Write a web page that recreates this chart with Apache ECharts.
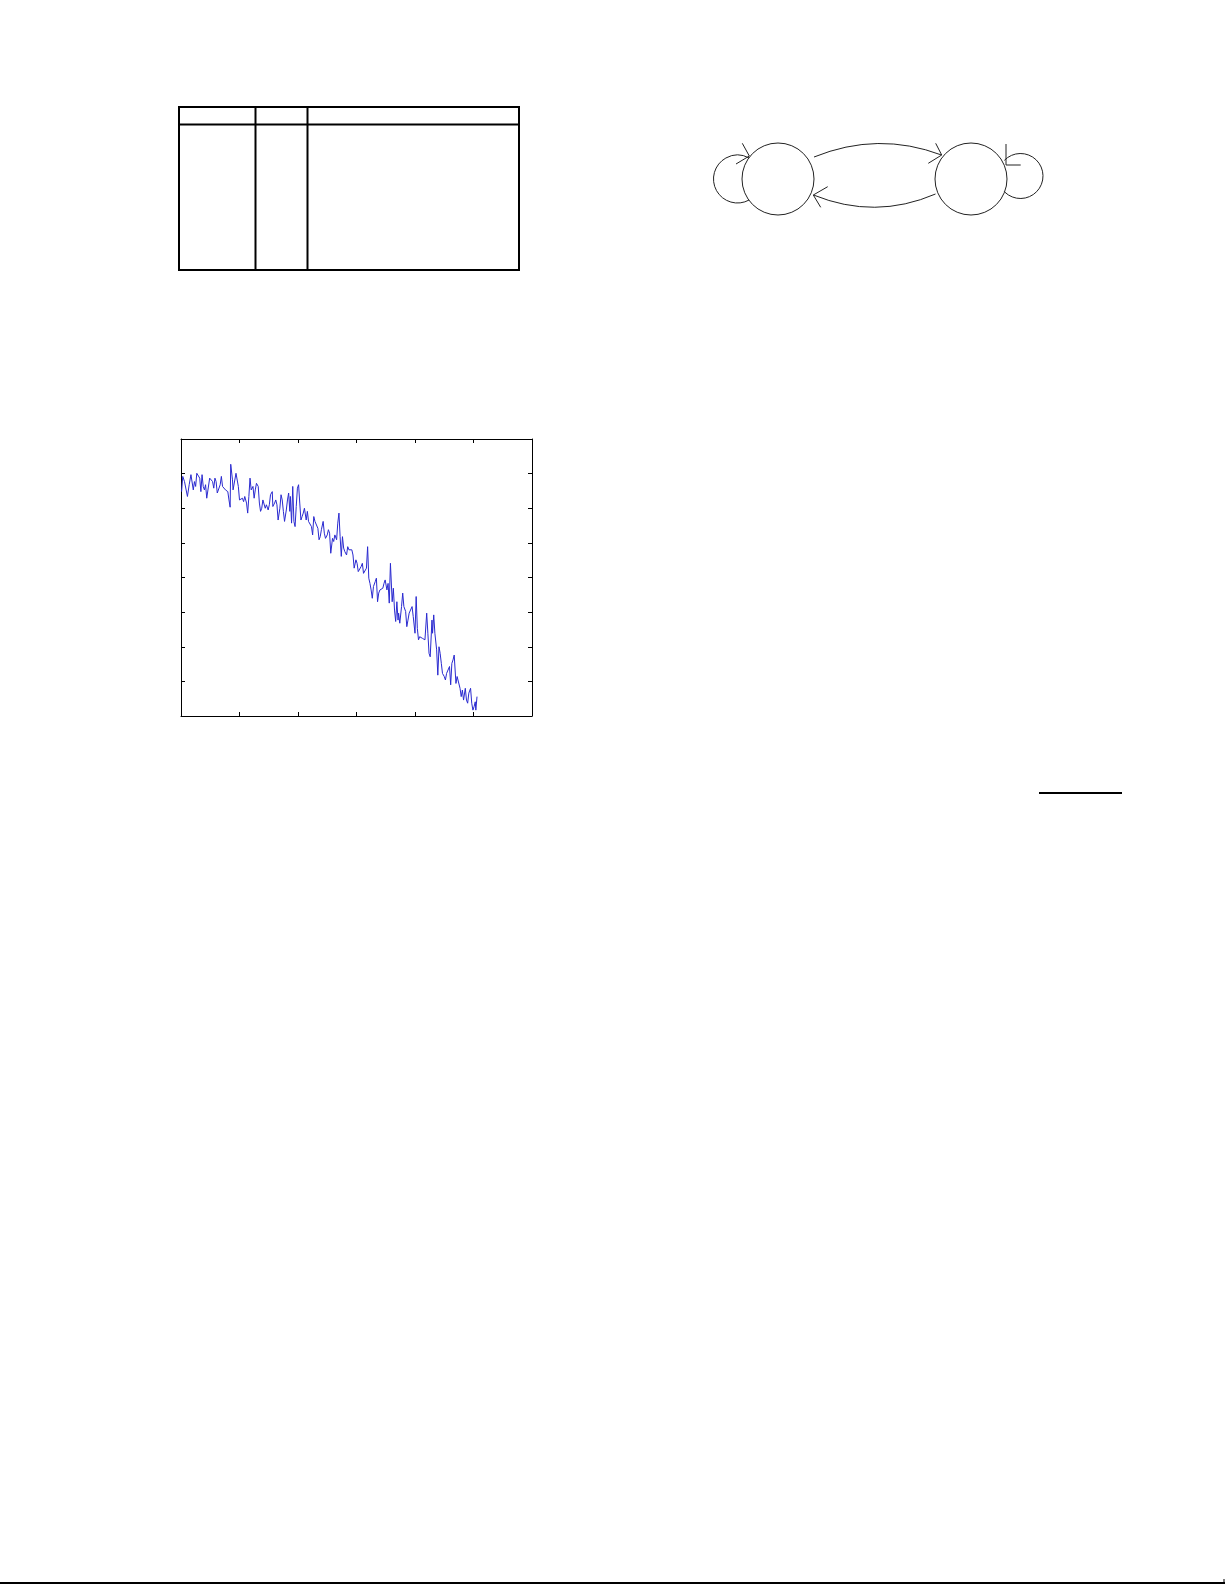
<!DOCTYPE html>
<html>
<head>
<meta charset="utf-8">
<script src="https://cdn.jsdelivr.net/npm/echarts@6/dist/echarts.min.js"></script>
<style>
html,body{margin:0;padding:0;background:#fff;}
#c{width:1225px;height:1585px;}
</style>
</head>
<body>
<div id="c"></div>
<script>
const xs = [
  1,3,6,11,14,17,19,21,23,25,
  27,30,32,34,36,38,40,42,44,47,
  49,52,54,56,58,60,62,64,67,69,
  71,74,76,78,80,82,84,85,88,89,
  92,94,96,98,100,103,105,107,109,112,
  114,116,118,120,123,125,127,129,132,134,
  136,138,140,142,144,146,149,151,153,156,
  157,160,162,164,166,169,171,173,175,177,
  180,182,184,186,187,189,191,193,195,197,
  199,201,203,205,207,209,211,214,216,218,
  221,223,225,227,229,231,234,236,238,240,
  243,245,247,250,252,254,256,259,261,263,
  266,268,270,272,274,276,278,280,283,285,
  287,290,292,294,296,299,301,303,306,308,
  310,312,315,317,319,321,323,325,327,329,
  332,334,336,338,340,343,345,347,349,352,
  354,356,358,361,363,365,367,369,371,372,
  374,377,379,381,384,386,388,390,393,395,
  397,400,402,404,406,408,410,413,415,417,
  420,422,424,426,429,430,432,434,437,439,
  441,443,445,447,450,452,454,457,459,461,
  463,465,467,470,472,474,477,479,481,483,
  486,488,490,492,495,497,499,501,503,504,
  506
];
const ys = [
  6.48,6.92,6.77,6.34,6.68,6.97,6.99,6.53,6.77,6.63,
  7.01,7.03,6.87,6.48,6.97,6.63,6.53,6.68,6.29,6.24,
  6.87,6.92,6.77,6.58,6.87,6.77,6.44,6.48,6.68,6.92,
  6.63,6.68,6.53,6.58,6.48,6.24,6.03,7.27,6.82,6.53,
  6.48,7.01,7.03,6.63,6.24,6.19,6.29,6.19,6.34,6.15,
  5.86,6.34,6.87,6.53,6.63,6.29,6.53,6.72,6.63,6.15,
  5.91,6.00,6.24,6.19,6.00,6.10,5.95,6.10,6.39,6.48,
  6.05,6.15,6.24,6.10,5.66,6.00,6.39,6.24,5.91,5.62,
  5.95,6.24,6.44,5.91,6.34,5.57,6.63,5.62,5.47,6.05,
  6.58,6.68,6.15,5.66,5.76,5.86,6.00,5.66,5.91,5.62,
  5.57,5.47,5.23,5.76,5.62,5.66,5.42,5.09,5.18,5.38,
  5.62,5.28,5.13,5.23,5.38,5.28,4.70,5.13,5.04,5.23,
  5.09,5.57,5.86,5.18,4.61,5.18,4.85,4.75,4.65,4.89,
  4.80,4.85,4.80,4.65,4.27,4.51,4.41,4.17,4.17,4.32,
  4.41,4.12,4.12,4.27,4.89,3.98,3.83,3.64,3.40,3.74,
  3.88,3.98,3.30,3.55,3.64,3.59,3.69,3.83,3.93,3.64,
  3.83,3.26,4.41,3.30,3.69,3.06,2.73,3.30,2.77,2.97,
  2.68,3.16,3.55,3.16,3.02,2.58,2.77,2.97,3.02,3.16,
  2.87,2.39,3.45,2.53,2.20,2.29,2.34,2.24,2.29,2.20,
  2.97,2.39,1.81,1.71,2.77,2.39,2.92,2.39,1.91,1.18,
  2.00,1.81,1.52,1.23,1.14,1.04,1.23,1.23,1.43,0.90,
  1.52,1.62,1.76,0.94,1.14,1.14,0.80,0.56,0.75,0.46,
  0.80,0.46,0.37,0.66,0.80,0.37,0.17,0.27,0.41,0.17,
  0.56
];
const xRange = [0, 600];
const xStep = 100;
const yRange = [0, 8];
const yStep = 1;

const seriesData = xs.map((x, i) => [x, ys[i]]);

const deg = Math.PI / 180;
const ink = '#222';

function line(x1, y1, x2, y2, w, c) {
  return { type: 'line', shape: { x1, y1, x2, y2 }, style: { stroke: c || '#000', lineWidth: w || 1 }, silent: true };
}
function poly(pts, w, c) {
  return { type: 'polyline', shape: { points: pts }, style: { stroke: c || ink, lineWidth: w || 1, fill: null }, silent: true };
}

const graphics = [
  // empty table
  { type: 'rect', shape: { x: 179, y: 107, width: 340, height: 163 }, style: { fill: null, stroke: '#000', lineWidth: 2 }, silent: true },
  line(179, 124.5, 519, 124.5, 2),
  line(255.5, 107, 255.5, 270, 2),
  line(307.5, 107, 307.5, 270, 2),
  // state diagram
  { type: 'circle', shape: { cx: 778, cy: 179, r: 36 }, style: { fill: null, stroke: ink, lineWidth: 1 }, silent: true },
  { type: 'circle', shape: { cx: 971, cy: 179, r: 36 }, style: { fill: null, stroke: ink, lineWidth: 1 }, silent: true },
  { type: 'arc', shape: { cx: 737.5, cy: 179, r: 24, startAngle: 61 * deg, endAngle: 299 * deg, clockwise: true }, style: { fill: null, stroke: ink, lineWidth: 1 }, silent: true },
  { type: 'arc', shape: { cx: 1020.5, cy: 176, r: 22.5, startAngle: -136 * deg, endAngle: 136 * deg, clockwise: true }, style: { fill: null, stroke: ink, lineWidth: 1 }, silent: true },
  { type: 'bezierCurve', shape: { x1: 814, y1: 157, cpx1: 878, cpy1: 131, x2: 941.5, y2: 155 }, style: { fill: null, stroke: ink, lineWidth: 1 }, silent: true },
  { type: 'bezierCurve', shape: { x1: 935.5, y1: 194, cpx1: 875, cpy1: 220, x2: 813.5, y2: 195 }, style: { fill: null, stroke: ink, lineWidth: 1 }, silent: true },
  poly([[742.3, 143.3], [749.3, 156], [736, 164]]),
  poly([[935.7, 143.3], [941.7, 155], [928.3, 163.3]]),
  poly([[827.7, 186.7], [813.3, 195], [820.7, 207.3]]),
  poly([[1006, 144], [1006, 165], [1020.7, 165]]),
  // short rule
  line(1039, 793, 1122, 793, 2),
  // page bottom rule
  line(0, 1583, 1225, 1583, 2),
  line(1224, 1579, 1224, 1584, 1)
];

const axisCommon = {
  type: 'value',
  axisLabel: { show: false },
  splitLine: { show: false },
  axisLine: { show: true, onZero: false, lineStyle: { color: '#000', width: 1 } },
  axisTick: { show: true, inside: true, length: 4, lineStyle: { color: '#000', width: 1 } }
};

const chart = echarts.init(document.getElementById('c'), null, { renderer: 'canvas' });
chart.setOption({
  backgroundColor: '#fff',
  animation: false,
  grid: { left: 181, top: 439, width: 351, height: 277, containLabel: false },
  xAxis: [
    Object.assign({}, axisCommon, { position: 'bottom', min: xRange[0], max: xRange[1], interval: xStep }),
    Object.assign({}, axisCommon, { position: 'top', min: xRange[0], max: xRange[1], interval: xStep })
  ],
  yAxis: [
    Object.assign({}, axisCommon, { position: 'left', min: yRange[0], max: yRange[1], interval: yStep }),
    Object.assign({}, axisCommon, { position: 'right', min: yRange[0], max: yRange[1], interval: yStep })
  ],
  series: [{
    type: 'line',
    xAxisIndex: 0,
    yAxisIndex: 0,
    data: seriesData,
    showSymbol: false,
    symbol: 'none',
    lineStyle: { color: '#2a2ad0', width: 1 },
    silent: true
  }],
  graphic: graphics
});
</script>
</body>
</html>
